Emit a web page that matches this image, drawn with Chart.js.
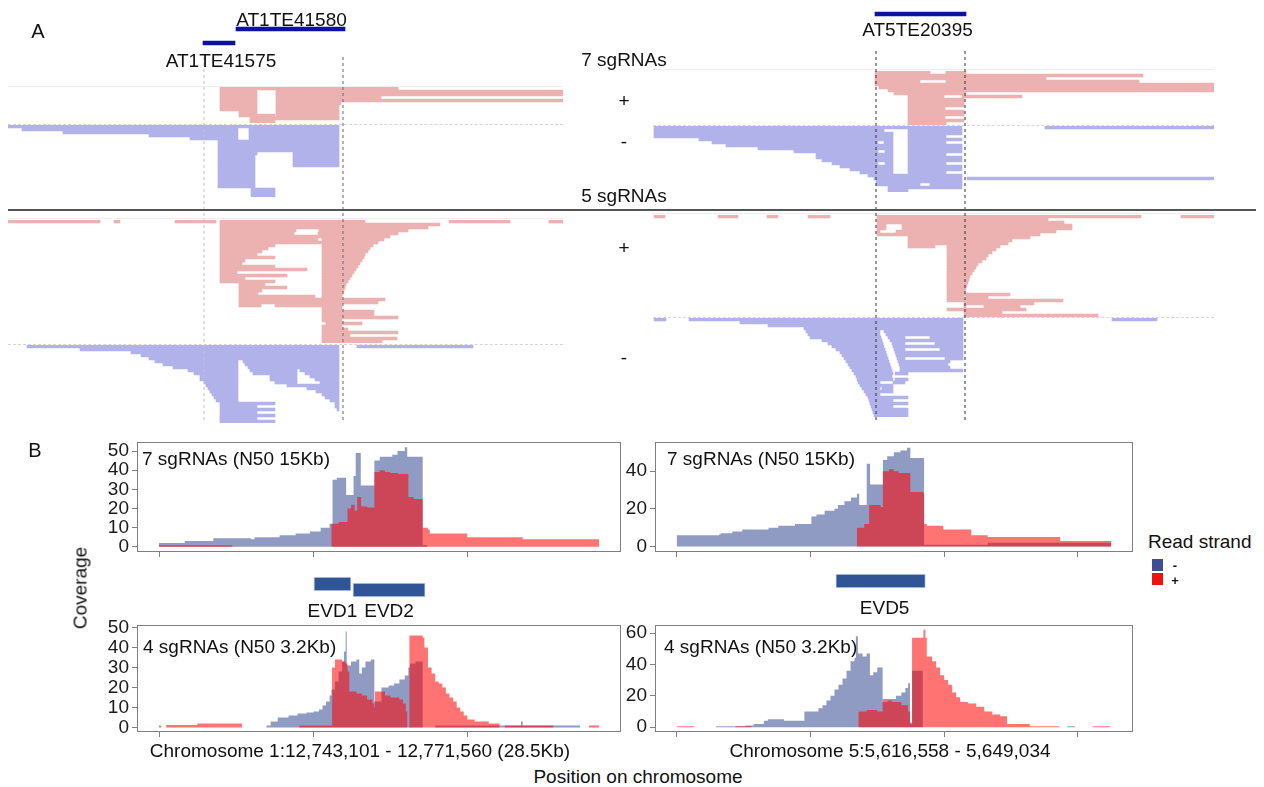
<!DOCTYPE html>
<html><head><meta charset="utf-8">
<script src="https://cdn.jsdelivr.net/npm/chart.js@4.4.1/dist/chart.umd.min.js"></script>
<style>
html,body{margin:0;padding:0;background:#fff;}
body{width:1264px;height:787px;position:relative;overflow:hidden;font-family:"Liberation Sans",Arial,sans-serif;color:#111;}
.t{position:absolute;white-space:nowrap;font-size:19px;line-height:1;transform:translate(-50%,-50%);}
.tl{position:absolute;white-space:nowrap;font-size:19px;line-height:1;transform:translate(0,-50%);}
.hl{position:absolute;height:0;}
</style></head><body>
<script>
// ================= DATA =================
// ---- Panel A: windows (kb from window start) ----
const winLeft = [0, 55.5];
const winRight = [0, 56.1];
const teLeftNames = ['AT1TE41580', 'AT1TE41575'];
const teLeftSpans = [[22.8, 33.7], [19.5, 22.7]];
const teRightNames = ['AT5TE20395'];
const teRightSpans = [[22.2, 31.3]];
const cutLeft = [19.6, 33.5];
const cutRight = [22.3, 31.2];

// ---- Panel A reads (each row: list of [start,end] in kb) ----
const readsL7plus = [
 [[21.2,39.0]],
 [[21.2,24.9],[26.8,55.5]],
 [[21.2,24.9],[26.8,55.5]],
 [[21.2,24.9],[26.8,37.3]],
 [[21.2,24.9],[26.8,55.5]],
 [[21.2,24.9],[26.8,33.3]],
 [[21.2,24.9],[26.8,33.1]],
 [[21.2,24.9],[26.8,33.1]],
 [[23.1,24.9],[26.8,33.1]],
 [[23.1,26.7],[26.8,33.1]],
 [[24.2,33.1]],
 [[24.2,26.7]]
];
const readsL7minus = [
 [[0,33.1]],
 [[1.4,23.0],[24.1,33.1]],
 [[5.5,23.0],[24.1,33.1]],
 [[14.1,23.0],[24.1,33.1]],
 [[18.2,23.0],[24.1,33.1]],
 [[21.0,33.1]],
 [[21.0,33.1]],
 [[21.0,33.1]],
 [[21.0,33.1]],
 [[21.0,24.9],[28.5,33.1]],
 [[21.0,24.7],[28.5,33.1]],
 [[21.0,24.7],[28.5,33.1]],
 [[21.0,24.7],[28.5,33.1]],
 [[21.0,24.7],[28.5,33.1]],
 [[21.0,24.7]],
 [[21.0,24.7]],
 [[21.0,24.7]],
 [[21.0,24.7]],
 [[21.0,24.7]],
 [[21.0,24.7]],
 [[21.0,24.7]],
 [[24.3,26.7]],
 [[24.3,26.7]],
 [[24.3,26.7]]
];
const readsR7plus = [
 [[22.2,27.7],[29.3,31.3]],
 [[22.2,49.0]],
 [[22.2,39.3]],
 [[22.2,26.7],[29.3,48.6]],
 [[22.2,56.1]],
 [[22.6,56.1]],
 [[23.5,56.1]],
 [[24.1,31.3]],
 [[25.5,29.1],[30.9,36.9]],
 [[25.5,31.1]],
 [[25.5,31.1]],
 [[25.5,31.1]],
 [[25.5,29.2]],
 [[25.5,31.1]],
 [[25.5,31.1]],
 [[25.5,29.2]],
 [[25.5,31.1]],
 [[25.5,29.3]]
];
const readsR7minus = [
 [[0.1,30.9],[39.2,56.1]],
 [[0.1,23.1],[25.5,30.9]],
 [[0.1,24.0],[25.5,30.9]],
 [[0.1,24.0],[25.5,29.3]],
 [[4.6,24.0],[25.5,30.9]],
 [[5.9,22.5],[23.1,24.0],[25.5,29.3]],
 [[7.3,24.0],[25.5,30.9]],
 [[10.5,24.0],[25.5,30.9]],
 [[14.1,22.5],[23.2,24.0],[25.5,30.9]],
 [[16.3,24.0],[25.5,29.3]],
 [[16.3,24.0],[25.5,30.9]],
 [[16.9,24.0],[25.5,30.9]],
 [[17.9,22.5],[23.2,24.0],[25.5,29.3]],
 [[18.7,24.0],[25.5,30.9]],
 [[19.7,24.0],[25.5,30.9]],
 [[20.7,24.0],[25.5,29.3]],
 [[21.5,30.9]],
 [[22.1,30.9],[31.4,56.1]],
 [[22.3,30.9]],
 [[22.3,26.7],[27.7,30.9]],
 [[23.5,30.9]],
 [[23.5,25.5]]
];
const readsL5plus = [
 [[0,9.2],[10.6,11.2],[16.7,20.8],[21.2,35.7],[44.1,50.2],[54.1,55.5]],
 [[21.2,43.2]],
 [[21.2,42.0]],
 [[21.2,28.8],[31.1,40.0]],
 [[21.2,28.6],[31.0,39.0]],
 [[21.2,38.2]],
 [[21.2,31.0],[31.4,37.6]],
 [[21.2,37.0]],
 [[21.2,26.7],[31.4,36.5]],
 [[21.2,26.0],[31.4,36.2]],
 [[21.2,25.4],[31.4,36.0]],
 [[21.2,24.9],[31.4,35.7]],
 [[21.2,26.7],[31.4,35.6]],
 [[21.2,23.7],[31.4,35.4]],
 [[21.2,23.4],[31.4,35.2]],
 [[21.2,26.7],[31.4,35.0]],
 [[21.2,29.9],[31.4,34.8]],
 [[21.2,22.9],[31.4,34.6]],
 [[21.2,27.9],[31.4,34.4]],
 [[21.2,23.7],[31.4,34.2]],
 [[21.2,26.7],[31.4,34.0]],
 [[23.1,25.7],[31.4,33.8]],
 [[23.1,27.9],[31.4,33.7]],
 [[23.1,25.4],[31.4,33.6]],
 [[23.1,25.0],[31.4,33.5]],
 [[23.1,30.7],[31.4,33.4]],
 [[23.1,37.7]],
 [[23.1,37.0]],
 [[23.1,25.3],[26.7,33.4]],
 [[31.4,33.4]],
 [[31.4,36.6]],
 [[31.4,36.6]],
 [[31.4,39.0]],
 [[31.4,33.4]],
 [[31.8,35.4]],
 [[31.4,33.4]],
 [[31.4,34.0]],
 [[31.4,39.0]],
 [[31.4,34.2]],
 [[31.4,38.9]],
 [[31.4,37.4]]
];
const readsL5minus = [
 [[1.9,33.1],[34.9,46.5]],
 [[7.2,33.1]],
 [[12.3,33.1]],
 [[13.3,33.1]],
 [[14.1,33.1]],
 [[14.7,23.0],[23.5,33.1]],
 [[15.5,23.0],[23.7,33.1]],
 [[16.5,23.0],[24.0,33.1]],
 [[18.0,23.0],[24.2,28.9],[29.2,33.1]],
 [[18.6,23.0],[24.5,28.9],[29.7,33.1]],
 [[19.2,23.0],[26.2,28.9],[30.2,33.1]],
 [[19.2,23.0],[26.2,28.9],[30.7,33.1]],
 [[19.6,23.0],[26.7,28.9],[31.2,33.1]],
 [[19.8,23.0],[27.9,33.1]],
 [[20.0,23.0],[29.9,33.1]],
 [[20.2,23.0],[30.8,33.1]],
 [[20.4,23.0],[31.4,33.1]],
 [[20.6,23.0],[31.7,33.1]],
 [[20.8,23.0],[32.2,33.1]],
 [[21.2,26.7],[32.7,33.1]],
 [[21.2,24.9],[32.7,33.1]],
 [[21.2,26.7],[32.9,33.1]],
 [[21.2,24.9]],
 [[21.2,26.7]],
 [[21.2,24.9]],
 [[21.2,26.7]]
];
const readsR5plus = [
 [[0.1,1.2],[6.5,8.5],[11.4,12.5],[15.5,17.7],[22.4,48.8],[52.8,56.1]],
 [[22.4,39.5]],
 [[22.4,41.1]],
 [[22.4,23.3],[24.9,41.9]],
 [[22.4,23.3],[24.9,41.9]],
 [[22.4,22.7],[24.3,40.3]],
 [[22.4,38.7]],
 [[25.5,37.7]],
 [[25.5,35.9]],
 [[25.5,35.5]],
 [[25.5,28.2],[29.4,34.7]],
 [[29.4,34.3]],
 [[29.4,33.9]],
 [[29.4,33.5]],
 [[29.4,33.3]],
 [[29.4,32.9]],
 [[29.4,32.5]],
 [[29.4,32.3]],
 [[29.4,32.1]],
 [[29.4,31.9]],
 [[29.4,31.7]],
 [[29.4,31.6]],
 [[29.4,31.5]],
 [[29.4,31.4]],
 [[29.4,31.3]],
 [[29.4,31.2]],
 [[29.4,35.7]],
 [[29.4,31.1],[31.3,33.5]],
 [[29.4,41.0]],
 [[31.1,38.1]],
 [[31.1,31.3],[33.1,36.7]],
 [[29.4,37.3]],
 [[31.1,34.9]],
 [[31.1,44.5]]
];
const readsR5minus = [
 [[0.1,1.3],[3.6,31.0],[45.9,50.4]],
 [[8.7,31.0]],
 [[11.5,31.0]],
 [[15.1,31.0]],
 [[15.3,22.7],[23.1,31.0]],
 [[15.5,22.7],[23.3,31.0]],
 [[15.7,22.8],[23.5,25.2],[27.7,31.0]],
 [[16.9,22.9],[23.7,31.0]],
 [[17.5,23.0],[23.9,25.2],[28.2,31.0]],
 [[17.9,23.1],[24.0,31.0]],
 [[18.3,23.2],[24.1,25.2],[28.7,31.0]],
 [[18.7,23.3],[24.2,31.0]],
 [[18.9,23.4],[24.3,31.0]],
 [[19.1,23.5],[24.4,25.2],[29.2,31.0]],
 [[19.3,23.6],[24.5,29.7]],
 [[19.5,23.7],[24.6,29.5]],
 [[19.7,23.8],[24.7,29.7]],
 [[19.9,23.9],[24.7,31.0]],
 [[20.1,24.0],[24.2,25.5]],
 [[20.3,23.9]],
 [[20.4,24.0],[24.2,25.5]],
 [[20.5,22.7],[24.0,25.2]],
 [[20.7,24.0]],
 [[20.9,22.7],[22.9,24.0]],
 [[21.1,24.0]],
 [[21.3,22.7]],
 [[21.5,25.5]],
 [[21.6,24.0]],
 [[21.7,25.5]],
 [[21.8,24.0]],
 [[21.9,25.5]],
 [[22.0,25.5]],
 [[22.1,25.5]]
];

// ---- Panel B: coverage steps [kb from region start, reads] ----
const xRangeChr1 = [-1.425, 29.925];
const xRangeChr5 = [-1.62, 34.12];
const covTLplus = [[0,0.8],[4.75,0],[11.17,12],[11.63,13],[12.21,20],[12.44,22],[12.67,19],[12.84,26],[13.09,21],[13.5,20.5],[13.95,39],[14.3,40],[14.64,39],[14.99,38.5],[15.5,38],[16.15,26],[16.5,25],[17.08,10],[17.42,9],[17.54,7],[19.97,5],[23.56,4],[28.5,0]];
const covTLminus = [[0,2],[1.67,3],[3.52,4.5],[5.95,4],[6.19,5],[7.81,6],[8.85,7],[9.78,8],[10.47,10],[11.05,12],[11.24,35],[11.52,36],[12.12,27],[12.6,37],[12.74,49],[13.07,32],[13.95,45],[14.3,47],[15.11,48],[15.45,50],[15.92,52],[16.08,47],[17.08,1],[17.38,0]];
const covTRplus = [[13.48,10],[14.02,12],[14.39,22],[15.25,21],[15.42,40],[15.87,41],[16.24,40],[16.6,39],[17.47,29],[18.45,28],[18.5,12],[18.7,11],[19.93,9],[22.03,6],[23.26,5],[28.68,3],[32.5,0]];
const covTRminus = [[0,6],[3.18,6.5],[3.3,7],[4.16,8],[4.9,9],[6.87,10],[7.6,11],[8.85,12],[10.07,16],[10.45,17],[11.06,19],[11.8,20],[12.05,22],[12.54,24],[13.03,26],[13.48,28],[13.65,22],[14.21,44],[14.46,33],[15.42,46],[15.74,48],[16.24,50],[16.73,51],[17.22,52.5],[17.47,47],[18.5,1],[23.26,2],[32.5,0]];
const covBLplus = [[0,1],[0.15,0],[0.46,1.2],[2.48,2],[5.38,0],[9.08,1],[11.21,30],[11.4,34],[11.86,33],[12.09,32],[12.21,28],[12.33,18],[12.79,17],[13.14,16],[13.48,14],[13.83,12],[13.95,10],[13.99,18],[14.53,18],[14.64,16],[14.99,15],[15.57,14],[15.8,12],[15.99,8],[16.08,0],[16.22,46],[17.08,45],[17.19,40],[17.42,30],[17.66,27],[17.89,23],[18.12,22],[18.35,20],[18.58,17],[18.81,15],[19.05,13],[19.28,10],[19.51,8],[19.74,6],[19.97,4],[20.44,3],[21.36,2],[22.06,0],[22.4,1],[25.53,0],[27.85,1],[28.5,0]];
const covBLminus = [[6.95,1],[7.23,3],[7.69,5],[8.39,6],[8.97,7],[9.55,7.5],[10.01,8],[10.36,9],[10.59,11],[10.82,13],[11.05,16],[11.17,19],[11.4,23],[11.63,28],[11.86,33],[11.98,38],[12.09,48],[12.16,31],[12.44,33],[12.79,34],[12.97,27],[13.14,30],[13.37,33],[13.72,34],[13.95,13],[14.41,20],[14.87,21],[15.22,22],[15.57,24],[15.92,26],[16.15,30],[16.27,32],[16.61,33],[17.08,0],[17.89,1],[23.45,3],[23.56,1],[27.27,0]];
const covBRplus = [[0,0.5],[1.3,0],[4.39,0.5],[5.6,0],[13.6,10],[14.2,11],[15.0,10],[15.4,18],[15.75,17],[16.1,16],[16.8,14],[17.3,10],[17.45,2],[17.6,57],[18.45,62],[18.6,57],[18.7,45],[19.1,42],[19.4,38],[19.7,33],[20.0,30],[20.3,27],[20.6,22],[20.9,19],[21.2,16],[21.8,15],[22.4,13],[23.0,10],[23.6,8],[24.2,7],[24.7,2],[26.4,0.5],[28.6,0],[31.1,0.5],[32.4,0]];
const covBRminus = [[2.94,0.5],[5.15,1],[5.76,2],[6.52,4],[6.82,5],[8.03,4],[9.55,10],[10.6,12],[10.9,14],[11.2,17],[11.5,20],[11.8,24],[12.1,27],[12.4,31],[12.7,36],[13.0,42],[13.3,44],[13.4,58],[13.55,47],[13.9,45],[14.2,47],[14.45,33],[14.7,35],[15.0,38],[15.4,16],[15.75,18],[16.4,20],[16.8,22],[17.1,25],[17.3,28],[17.45,3],[17.6,36],[18.4,0],[29.2,0.5],[29.8,0]];
const geneLeftNames = ['EVD1', 'EVD2'];
const geneLeftSpans = [[10.03, 12.44], [12.56, 17.24]];
const geneRightNames = ['EVD5'];
const geneRightSpans = [[11.9, 18.6]];

// ================= STYLE / LAYOUT =================
const ROW_PX = 3;
const PINK = '#ecb1b1';
const LAV = '#b2b2eb';
const RED_FILL = 'rgba(255,0,0,0.55)';
const BLUE_FILL = 'rgba(52,73,148,0.55)';
const FONT = "'Liberation Sans', Arial, sans-serif";
Chart.defaults.font.family = FONT;
Chart.defaults.color = '#1a1a1a';

function canvasAt(l, t, w, h) {
  const c = document.createElement('canvas');
  c.width = Math.round(w); c.height = Math.round(h);
  c.style.cssText = `position:absolute;left:${l}px;top:${t}px;width:${Math.round(w)}px;height:${Math.round(h)}px;`;
  document.body.appendChild(c);
  return c;
}
function text(str, x, y, cls, extra) {
  const d = document.createElement('div');
  d.className = cls || 't';
  d.textContent = str;
  d.style.left = x + 'px'; d.style.top = y + 'px';
  if (extra) Object.assign(d.style, extra);
  document.body.appendChild(d);
  return d;
}
function hline(x1, x2, y, style) {
  const d = document.createElement('div');
  d.className = 'hl';
  d.style.left = x1 + 'px'; d.style.top = y + 'px'; d.style.width = (x2 - x1) + 'px';
  d.style.borderTop = style;
  document.body.appendChild(d);
}
const noPad = s => { s.paddingTop = 0; s.paddingBottom = 0; s.paddingLeft = 0; s.paddingRight = 0; };
const hidden = (min, max, extra) => Object.assign({
  type: 'linear', min, max, display: false, offset: false, grace: 0,
  ticks: { display: false }, grid: { display: false, offset: false }, border: { display: false },
  afterFit: noPad
}, extra || {});
const baseOpts = {
  responsive: false, animation: false, events: [], devicePixelRatio: 1,
  layout: { padding: 0, autoPadding: false },
  plugins: { legend: { display: false }, tooltip: { enabled: false }, title: { display: false } }
};

function pileup(rows, color, win, left, width, top) {
  const data = [];
  rows.forEach((segs, r) => segs.forEach(s => data.push({ x: s, y: r })));
  const c = canvasAt(left, top, width, rows.length * ROW_PX);
  return new Chart(c, {
    type: 'bar',
    data: { datasets: [{ data, backgroundColor: color, borderWidth: 0, barThickness: ROW_PX, borderSkipped: false }] },
    options: Object.assign({}, baseOpts, {
      indexAxis: 'y',
      scales: { x: hidden(win[0], win[1]), y: hidden(-0.5, rows.length - 0.5, { reverse: true }) }
    })
  });
}
function annot(spans, color, win, left, width, top, height, lanes, thick, border) {
  const c = canvasAt(left, top, width, height);
  return new Chart(c, {
    type: 'bar',
    data: { datasets: [{ data: spans.map((s, i) => ({ x: s, y: i })), backgroundColor: color,
      borderColor: border || color, borderWidth: border ? 1 : 0, borderSkipped: false, barThickness: thick }] },
    options: Object.assign({}, baseOpts, {
      indexAxis: 'y',
      scales: { x: hidden(win[0], win[1]), y: hidden(lanes[0], lanes[1], { reverse: true }) }
    })
  });
}
function cuts(vals, colors, win, left, width, top, height) {
  const c = canvasAt(left, top, width, height);
  return new Chart(c, {
    type: 'line',
    data: { datasets: vals.map((v, i) => ({ data: [{ x: v, y: 0 }, { x: v, y: 1 }], borderColor: colors[i],
      borderWidth: 1, borderDash: [3, 3], pointRadius: 0, fill: false })) },
    options: Object.assign({}, baseOpts, {
      scales: { x: hidden(win[0], win[1]), y: hidden(0, 1) }
    })
  });
}
const boxPlugin = {
  id: 'box',
  afterDraw(ch) {
    const a = ch.chartArea, c = ch.ctx;
    c.save(); c.strokeStyle = '#7f7f7f'; c.lineWidth = 1;
    c.strokeRect(Math.round(a.left) + 0.5, Math.round(a.top) + 0.5, Math.round(a.right - a.left) - 1, Math.round(a.bottom - a.top) - 1);
    c.restore();
  }
};
const TOP_ROOM = 12;
function coverage(rect, xr, yr, ystep, plus, minus) {
  const c = canvasAt(rect[0] - 60, rect[1] - TOP_ROOM, rect[2] - rect[0] + 62, rect[3] - rect[1] + TOP_ROOM + 12);
  const pts = a => a.map(p => ({ x: p[0], y: p[1] }));
  return new Chart(c, {
    type: 'line',
    data: { datasets: [
      { data: pts(plus), stepped: 'before', fill: 'origin', backgroundColor: RED_FILL, borderColor: 'transparent', borderWidth: 0, pointRadius: 0 },
      { data: pts(minus), stepped: 'before', fill: 'origin', backgroundColor: BLUE_FILL, borderColor: 'transparent', borderWidth: 0, pointRadius: 0 }
    ] },
    options: Object.assign({}, baseOpts, {
      layout: { padding: { top: TOP_ROOM, right: 2, left: 0, bottom: 0 }, autoPadding: false },
      scales: {
        x: { type: 'linear', min: xr[0], max: xr[1], afterFit: s => { s.height = 12; noPad(s); },
          ticks: { display: false, stepSize: 10, includeBounds: false, autoSkip: false },
          grid: { drawOnChartArea: false, drawTicks: true, tickLength: 5, color: '#7f7f7f' }, border: { display: false } },
        y: { type: 'linear', min: yr[0], max: yr[1], afterFit: s => { s.width = 60; noPad(s); },
          ticks: { stepSize: ystep, includeBounds: false, autoSkip: false, font: { size: 19 }, color: '#1a1a1a', padding: 3 },
          grid: { drawOnChartArea: false, drawTicks: true, tickLength: 5, color: '#7f7f7f' }, border: { display: false } }
      }
    }),
    plugins: [boxPlugin]
  });
}

// ================= PANEL A =================
const L = { left: 8, width: 555 }, R = { left: 653, width: 561 };
hline(8, 563, 86, '1px solid #eeeeee');
hline(8, 563, 124, '1px dashed #d6d6d6');
hline(8, 563, 218, '1px solid #eeeeee');
hline(8, 563, 344, '1px dashed #d6d6d6');
hline(653, 1214, 69, '1px solid #eeeeee');
hline(653, 1214, 125, '1px dashed #d6d6d6');
hline(653, 1214, 213, '1px solid #eeeeee');
hline(653, 1214, 317, '1px dashed #d6d6d6');

pileup(readsL7plus, PINK, winLeft, L.left, L.width, 87);
pileup(readsL7minus, LAV, winLeft, L.left, L.width, 125);
pileup(readsR7plus, PINK, winRight, R.left, R.width, 71);
pileup(readsR7minus, LAV, winRight, R.left, R.width, 126);
pileup(readsL5plus, PINK, winLeft, L.left, L.width, 220);
pileup(readsL5minus, LAV, winLeft, L.left, L.width, 345);
pileup(readsR5plus, PINK, winRight, R.left, R.width, 215);
pileup(readsR5minus, LAV, winRight, R.left, R.width, 318);

cuts(cutLeft, ['#c4c4c4', '#6a6a6a'], winLeft, L.left, L.width, 57, 363);
cuts(cutRight, ['#333333', '#333333'], winRight, R.left, R.width, 50, 370);

const teL = annot(teLeftSpans, '#0b12a0', winLeft, L.left, L.width, 22, 28, [-0.5, 1.5], 4);
const teR = annot(teRightSpans, '#0b12a0', winRight, R.left, R.width, 7, 28, [-0.5, 1.5], 4);
{
  const sx = teL.scales.x;
  text(teLeftNames[0], sx.getPixelForValue((teLeftSpans[0][0] + teLeftSpans[0][1]) / 2) + L.left + 1, 19);
  text(teLeftNames[1], sx.getPixelForValue((teLeftSpans[1][0] + teLeftSpans[1][1]) / 2) + L.left + 2, 60);
  const rx = teR.scales.x;
  text(teRightNames[0], rx.getPixelForValue((teRightSpans[0][0] + teRightSpans[0][1]) / 2) + R.left - 3, 29);
}
hline(8, 1256, 209, '2px solid #555');
text('A', 38, 31, 't', { fontSize: '20px' });
text('7 sgRNAs', 624, 59);
text('+', 624, 100);
text('-', 624, 141);
text('5 sgRNAs', 624, 195);
text('+', 624, 247);
text('-', 624, 357);

// ================= PANEL B =================
const rTL = [137, 442, 621, 552], rTR = [655, 442, 1133, 552];
const rBL = [137, 625, 621, 732], rBR = [655, 625, 1133, 732];
coverage(rTL, xRangeChr1, [-2.7, 54.7], 10, covTLplus, covTLminus);
coverage(rTR, xRangeChr5, [-2.9, 55.5], 20, covTRplus, covTRminus);
coverage(rBL, xRangeChr1, [-2.3, 51.2], 10, covBLplus, covBLminus);
coverage(rBR, xRangeChr5, [-3.1, 65.1], 20, covBRplus, covBRminus);

text('7 sgRNAs (N50 15Kb)', 142, 458, 'tl');
text('7 sgRNAs (N50 15Kb)', 667, 458, 'tl');
text('4 sgRNAs (N50 3.2Kb)', 143, 646, 'tl');
text('4 sgRNAs (N50 3.2Kb)', 664, 646, 'tl');

const gL = annot(geneLeftSpans, '#2f5597', xRangeChr1, rTL[0], rTL[2] - rTL[0], 575, 24, [-1.5, 2.5], 14, '#c9d5ee');
const gR = annot(geneRightSpans, '#2f5597', xRangeChr5, rTR[0], rTR[2] - rTR[0], 572, 24, [-1.5, 2.5], 14, '#c9d5ee');
geneLeftNames.forEach((n, i) => text(n, gL.scales.x.getPixelForValue((geneLeftSpans[i][0] + geneLeftSpans[i][1]) / 2) + rTL[0], 610));
geneRightNames.forEach((n, i) => text(n, gR.scales.x.getPixelForValue((geneRightSpans[i][0] + geneRightSpans[i][1]) / 2) + rTR[0] + 4, 607));

text('B', 35, 450, 't', { fontSize: '20px' });
text('Coverage', 80, 588, 't', { transform: 'translate(-50%,-50%) rotate(-90deg)' });
text('Chromosome 1:12,743,101 - 12,771,560 (28.5Kb)', 360, 750);
text('Chromosome 5:5,616,558 - 5,649,034', 890, 750);
text('Position on chromosome', 638, 776);

text('Read strand', 1148, 541, 'tl');
const k1 = document.createElement('div');
k1.style.cssText = 'position:absolute;left:1152px;top:559px;width:11px;height:12px;background:#3c4f96;';
document.body.appendChild(k1);
const k2 = document.createElement('div');
k2.style.cssText = 'position:absolute;left:1152px;top:573px;width:11px;height:12px;background:#ee1111;';
document.body.appendChild(k2);
text('-', 1175, 565, 't', { fontSize: '13px', fontWeight: 'bold' });
text('+', 1175, 580, 't', { fontSize: '13px', fontWeight: 'bold' });
</script>
</body></html>
